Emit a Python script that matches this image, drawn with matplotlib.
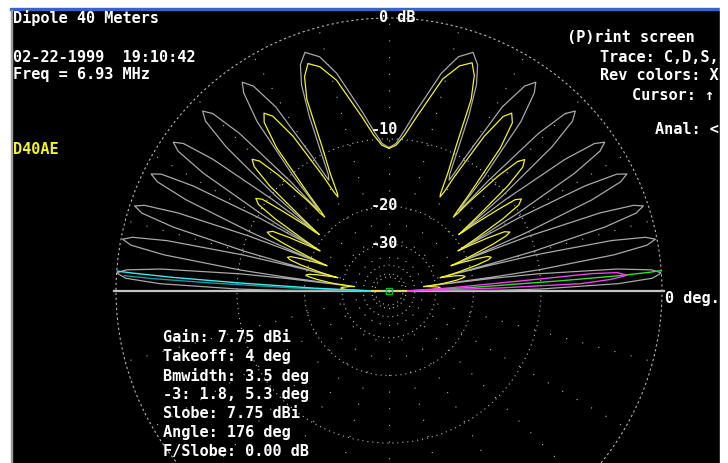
import numpy as np
import matplotlib
matplotlib.use("Agg")
import matplotlib.pyplot as plt
from matplotlib.patches import Rectangle

W, H = 728, 463

# --- elevation patterns: elevation angle (deg above horizon) and level (dB) ---
# flat-ground reference (gray), same on both sides
GRAY_ANG = [0.0, 0.37, 0.73, 1.83, 2.77, 3.8, 4.6, 5.5, 6.57, 6.94, 7.3,
            7.67, 8.03, 9.13, 10.07, 11.0, 11.83, 12.78, 13.87, 14.24, 14.6,
            14.98, 15.36, 16.5, 17.49, 18.5, 19.31, 20.3, 21.44, 21.82, 22.2,
            22.6, 23.0, 24.2, 25.24, 26.2, 27.16, 28.2, 29.4, 29.8, 30.2,
            30.64, 31.08, 32.4, 33.54, 34.6, 35.66, 36.8, 38.12, 38.56, 39.0,
            39.5, 40.0, 41.5, 42.8, 44.0, 45.2, 46.5, 48.0, 48.5, 49.0,
            49.6, 50.25, 52.1, 53.75, 54.9, 56.5, 58.4, 60.25, 60.9, 61.5,
            62.5, 64.0, 65.5, 67.0, 68.6, 70.6, 73.5, 76.5, 81.5, 84.5, 87.3, 90.0]
GRAY_DB = [-60, -16.1, -10.2, -3.0, -0.6, 0.0, -0.6, -3.0, -10.2, -16.1, -31,
           -15.9, -10.2, -3.1, -0.7, -0.1, -0.7, -3.1, -10.2, -15.9, -25.6,
           -15.8, -10.3, -3.3, -0.9, -0.3, -0.9, -3.3, -10.3, -15.8, -22.5,
           -15.5, -10.4, -3.5, -1.1, -0.5, -1.1, -3.5, -10.4, -15.5, -20.1,
           -15.1, -10.4, -3.7, -1.3, -0.7, -1.3, -3.7, -10.4, -15.1, -18.2,
           -14.7, -10.4, -3.9, -1.5, -0.9, -1.5, -3.9, -10.4, -14.7, -16.1,
           -14.0, -10.3, -4.1, -1.8, -1.15, -1.8, -4.0, -9.6, -11.8, -13.2,
           -12.5, -9.5, -6.0, -3.4, -2.0, -1.3, -1.9, -3.4, -7.0, -9.0, -10.5, -11.0]

# D40AE terrain pattern (yellow), right side
YEL_R_ANG = [0.0, 0.37, 0.73, 1.83, 2.77, 3.8, 4.6, 5.5, 6.57, 6.94, 7.3,
             7.67, 8.03, 9.13, 10.07, 10.8, 11.83, 12.78, 13.87, 14.24, 14.6,
             14.98, 15.36, 16.5, 17.49, 18.3, 19.31, 20.3, 21.44, 21.82, 22.2,
             22.6, 23.0, 24.2, 25.24, 26.0, 27.16, 28.2, 29.4, 29.8, 30.2,
             30.64, 31.08, 32.4, 33.54, 34.8, 35.9, 36.8, 38.12, 38.56, 39.0,
             39.5, 40.0, 41.5, 42.8, 44.1, 45.2, 46.5, 48.0, 48.5, 49.0,
             49.6, 50.25, 52.1, 53.75, 55.4, 56.8, 58.4, 60.25, 60.9, 61.5,
             62.1, 63.5, 65.1, 66.8, 68.4, 70.0, 72.6, 75.8, 81.0, 84.3, 87.2, 90.0]
YEL_R_DB = [-60, -44, -38, -31.5, -29.1, -28.5, -29.1, -31, -33, -34, -35,
            -29, -27, -23.5, -22.0, -21.5, -22.0, -23.5, -26, -27, -28,
            -24.5, -22.5, -18.5, -16.4, -15.9, -16.4, -18.5, -21.5, -23, -24,
            -21.5, -19.5, -15.0, -12.7, -12.1, -12.7, -15.0, -18.5, -20, -21,
            -19, -17, -12, -9.6, -9.0, -9.6, -12, -16, -18, -19,
            -17, -15, -9.3, -6.9, -6.3, -6.9, -9.3, -14, -16.5, -17.5,
            -16, -13.5, -7.0, -4.6, -4.0, -4.6, -7.0, -12.5, -15, -16,
            -15.5, -12.4, -9.3, -4.6, -2.8, -2.0, -2.5, -3.8, -7.5, -9.5, -10.7, -11.1]

# yellow, left side (angle measured from the left horizon)
YEL_L_ANG = [0.0, 0.37, 0.73, 1.83, 2.77, 3.5, 4.6, 5.5, 6.57, 6.94, 7.3,
             7.67, 8.03, 9.13, 10.07, 11.0, 11.83, 12.78, 13.87, 14.24, 14.6,
             14.98, 15.36, 16.5, 17.49, 18.4, 19.31, 20.3, 21.44, 21.82, 22.2,
             22.6, 23.0, 24.2, 25.0, 25.8, 27.16, 28.2, 29.4, 29.8, 30.2,
             30.64, 31.08, 32.4, 33.54, 34.8, 35.9, 36.8, 38.12, 38.56, 39.0,
             39.5, 40.0, 41.4, 42.7, 43.9, 45.1, 46.4, 48.0, 48.5, 49.0,
             49.6, 50.2, 51.9, 53.5, 54.9, 56.4, 58.2, 60.2, 60.9, 61.5,
             62.1, 63.5, 65.1, 66.8, 68.5, 70.4, 72.9, 76.0, 81.2, 84.4, 87.2, 90.0]
YEL_L_DB = [-60, -44, -38, -32, -30.1, -29.5, -30.1, -31.5, -33, -34, -35,
            -28, -26, -22.5, -20.6, -20.0, -20.6, -22.5, -25.5, -26.5, -28,
            -24.5, -22.5, -18.5, -16.5, -16.0, -16.5, -18.5, -21.5, -23, -24,
            -21.5, -19.5, -15.0, -12.6, -12.0, -12.6, -15.0, -18.5, -20, -21,
            -19, -17, -12, -9.5, -8.9, -9.5, -12, -16, -18, -19,
            -17, -15, -9.2, -6.8, -6.2, -6.8, -9.2, -14, -16.5, -17.5,
            -16, -13.5, -6.9, -4.5, -3.9, -4.5, -6.9, -12.5, -15, -16,
            -15.5, -12.4, -9.3, -4.6, -2.9, -2.1, -2.6, -3.9, -7.5, -9.5, -10.7, -11.1]

# low-angle traces near the horizon
CYAN_ANG = [0.3, 2.2, 3.1, 3.6, 4.0, 4.2]      # left side
CYAN_DB = [-45, -22, -10, -4, -1, 0.0]
TEAL_ANG = [0.3, 1.8, 2.6, 3.0, 3.3]           # left side
TEAL_DB = [-45, -18, -7, -2.5, -0.5]
MAG_ANG = [0.3, 1.6, 2.2, 3.0, 3.8, 4.6, 4.9, 4.4, 3.0, 0.3]   # right side
MAG_DB = [-45, -15, -6, -3.5, -2.3, -3.0, -5, -12, -25, -45]
GREEN_ANG = [0.3, 2.5, 3.4, 3.8, 4.1, 4.3]     # right side
GREEN_DB = [-45, -20, -8, -3, -0.8, 0.0]

RINGS = [-50, -40, -30, -20, -10]
RING_LABELS = ["-10", "-20", "-30"]
STATS = ["Gain: 7.75 dBi", "Takeoff: 4 deg", "Bmwidth: 3.5 deg",
         "-3: 1.8, 5.3 deg", "Slobe: 7.75 dBi", "Angle: 176 deg",
         "F/Slobe: 0.00 dB"]


def fwd(d):
    # ARRL log-periodic scale: 0.89 per 2 dB
    return 0.89 ** (-np.asarray(d, dtype=float) / 2)


def inv(r):
    r = np.clip(np.asarray(r, dtype=float), 1e-12, None)
    return -2 * np.log(r) / np.log(0.89)


fig = plt.figure(figsize=(W / 100, H / 100), dpi=100)
fig.patch.set_facecolor("white")
fig.add_artist(Rectangle((12 / W, 0), (720 - 12) / W, (H - 9) / H,
                         transform=fig.transFigure, color="black", zorder=0))
fig.add_artist(Rectangle((10 / W, 1 - 10 / H), 1, 1.6 / H,
                         transform=fig.transFigure, color="#3a62c8", zorder=0))
fig.add_artist(Rectangle((10.5 / W, 0), 1.5 / W, 1 - 10 / H,
                         transform=fig.transFigure, color="#9a9a9a", zorder=0))

cx, cy, R = 389, 291, 273
ax = fig.add_axes([(cx - R) / W, (H - cy - R) / H, 2 * R / W, 2 * R / H],
                  projection="polar")
ax.set_facecolor("none")
ax.set_rscale("function", functions=(fwd, inv))
ax.set_rlim(-100, 0)
ax.set_yticks(RINGS)
ax.set_yticklabels([])
ax.set_xticks(np.radians(np.arange(0, 360, 15)))
ax.set_xticklabels([])
ax.tick_params(length=0)
ax.yaxis.grid(True, color="#b8b8b8", linestyle=(0, (1, 3.5)), lw=0.8)
ax.xaxis.grid(True, color="#b8b8b8", linestyle=(0, (1, 14)), lw=0.8)
ax.spines["polar"].set_linestyle((0, (1, 3.5)))
ax.spines["polar"].set_color("#b8b8b8")
ax.spines["polar"].set_linewidth(0.8)


def right(a):
    return np.radians(a)


def left(a):
    return np.radians(180 - np.asarray(a))


# ground line
ax.plot([0, 0], [-100, 0.1], color="#c4c4c4", lw=1.6, clip_on=False, zorder=2)
ax.plot([np.pi, np.pi], [-100, 0.1], color="#c4c4c4", lw=1.6, clip_on=False, zorder=2)

ax.plot(right(GRAY_ANG), GRAY_DB, color="#a8a8a8", lw=0.9, zorder=3)
ax.plot(left(GRAY_ANG), GRAY_DB, color="#a8a8a8", lw=0.9, zorder=3)
ax.plot(right(YEL_R_ANG), YEL_R_DB, color="#f2f230", lw=0.9, zorder=4)
ax.plot(left(YEL_L_ANG), YEL_L_DB, color="#f2f230", lw=0.9, zorder=4)

ax.plot(left(TEAL_ANG), TEAL_DB, color="#1a9a9a", lw=1.0, zorder=5)
ax.plot(left(CYAN_ANG), CYAN_DB, color="#40e8f0", lw=1.0, zorder=5)
ax.plot(right(GREEN_ANG), GREEN_DB, color="#30e030", lw=1.0, zorder=5)
ax.plot(right(MAG_ANG), MAG_DB, color="#f040f0", lw=1.0, zorder=5)
ax.plot([0], [-100], marker="s", ms=4, mfc="none", mec="#10c010", mew=1.0,
        zorder=6, clip_on=False)

# --- text ---
mono = dict(family="DejaVu Sans Mono", fontsize=11, fontweight="bold",
            va="center", color="white")


def put(x, y, s, **kw):
    opts = dict(mono)
    opts.update(kw)
    fig.text(x / W, 1 - y / H, s, zorder=10, **opts)


put(13, 18, "Dipole 40 Meters")
put(13, 57, "02-22-1999  19:10:42")
put(13, 74, "Freq = 6.93 MHz")
put(13, 150, "D40AE", color="#f2f230")
put(379, 17, "0 dB")
for lab, yy in zip(RING_LABELS, [130, 205, 243]):
    put(384, yy, lab, ha="center")
put(567, 37, "(P)rint screen")
put(600, 57, "Trace: C,D,S,")
put(600, 76, "Rev colors: X")
put(632, 95, "Cursor: \u2191")
put(655, 130, "Anal: <")
put(665, 299, "0 deg.")
for i, s in enumerate(STATS):
    put(163, 338 + i * 18.9, s)

# white strip at right edge of the screen
fig.add_artist(Rectangle((720 / W, 0), 8 / W, 1, transform=fig.transFigure,
                         color="white", zorder=20))

fig.savefig("out.png", dpi=100, facecolor=fig.get_facecolor())
